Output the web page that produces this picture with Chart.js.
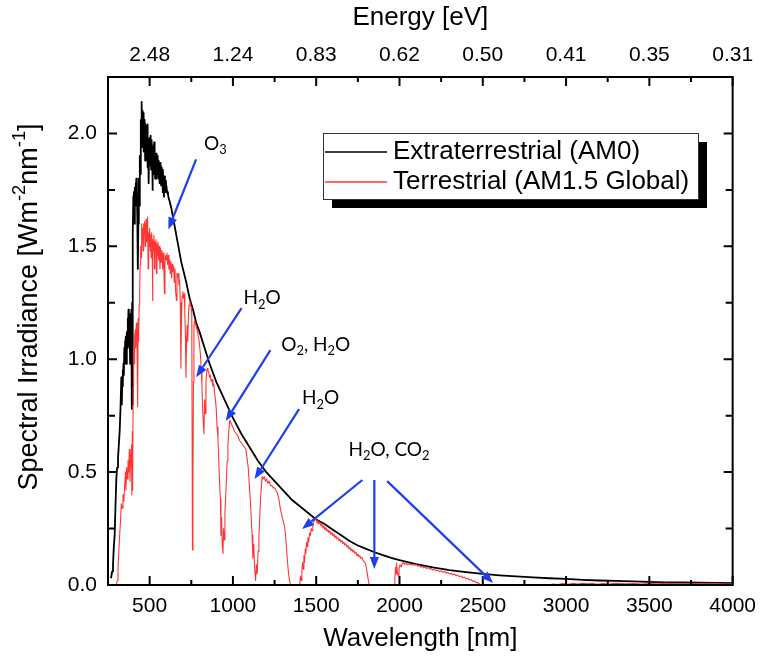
<!DOCTYPE html>
<html><head><meta charset="utf-8">
<script src="https://cdn.jsdelivr.net/npm/chart.js@4.4.0/dist/chart.umd.min.js"></script>
<style>html,body{margin:0;padding:0;background:#fff;}canvas{display:block;}</style>
</head><body>
<canvas id="c" width="765" height="662" style="width:765px;height:662px"></canvas>
<script>
// ---- data: [wavelength nm, irradiance W m^-2 nm^-1] ----
const am0Points = [
[268,0.03],[275,0.06],[280,0.09],[285,0.17],[290,0.22],[295,0.35],[300,0.47],[305,0.52],[310,0.56],[315,0.62],
[320,0.68],[325,0.78],[330,0.92],[333,0.80],[335,0.88],[338,0.95],[340,0.90],[343,0.98],[345,0.93],[348,1.05],
[350,0.98],[353,1.08],[355,1.02],[358,1.10],[360,0.98],[363,1.12],[365,1.05],[368,1.18],[370,1.10],[373,1.22],
[375,1.06],[378,1.20],[380,1.12],[383,0.98],[386,1.14],[388,1.05],[390,1.22],[393,0.78],[395,1.25],[397,0.80],
[400,1.55],[402,1.72],[404,1.62],[406,1.74],[408,1.66],[410,1.60],[412,1.76],[414,1.70],[416,1.78],[418,1.68],
[420,1.80],[422,1.72],[424,1.77],[426,1.62],[428,1.55],[430,1.40],[432,1.60],[434,1.72],[436,1.80],[438,1.68],
[440,1.84],[442,1.90],[444,1.82],[446,1.98],[448,2.06],[450,1.95],[451,2.14],[453,2.00],[455,2.10],[457,1.94],
[459,2.08],[461,2.00],[463,2.09],[465,1.92],[467,2.06],[469,1.97],[471,2.05],[473,1.88],[475,2.04],[477,1.95],
[479,2.03],[481,1.90],[483,2.02],[485,1.96],[487,2.04],[489,1.85],[491,1.97],[493,1.90],[495,1.78],[497,1.96],
[499,1.90],[501,1.98],[503,1.86],[505,1.99],[507,1.90],[509,1.84],[511,1.97],[513,1.88],[515,1.94],[517,1.75],
[519,1.93],[521,1.86],[523,1.95],[525,1.82],[527,1.96],[529,1.87],[531,1.92],[533,1.80],[535,1.90],[537,1.85],
[539,1.91],[541,1.80],[543,1.89],[545,1.84],[547,1.90],[549,1.82],[551,1.88],[553,1.80],[555,1.88],[557,1.83],
[559,1.86],[561,1.78],[563,1.87],[565,1.82],[567,1.85],[569,1.77],[571,1.85],[573,1.80],[576,1.83],[578,1.74],
[580,1.84],[583,1.78],[586,1.72],[589,1.81],[592,1.77],[595,1.79],[598,1.74],[600,1.77],[605,1.74],
[610,1.73],[615,1.71],[620,1.70],[630,1.67],[640,1.63],[650,1.59],[660,1.55],[670,1.51],[680,1.47],[690,1.43],
[700,1.40],[720,1.34],[740,1.27],[760,1.22],[780,1.16],[800,1.12],[830,1.05],[860,0.98],[900,0.90],[950,0.82],
[1000,0.74],[1050,0.67],[1100,0.61],[1150,0.55],[1200,0.50],[1250,0.46],[1300,0.42],[1350,0.38],[1400,0.35],
[1450,0.32],[1500,0.29],[1550,0.27],[1600,0.245],[1650,0.22],[1700,0.195],[1750,0.175],[1800,0.16],[1850,0.145],
[1900,0.132],[1950,0.12],[2000,0.11],[2100,0.092],[2200,0.078],[2300,0.066],[2400,0.057],[2500,0.049],[2600,0.043],
[2700,0.038],[2800,0.034],[2900,0.030],[3000,0.027],[3100,0.023],[3200,0.020],[3300,0.018],[3400,0.016],
[3500,0.014],[3600,0.012],[3700,0.011],[3800,0.010],[3900,0.009],[4000,0.008]
];
const am15Points = [
[300,0.0],[305,0.02],[310,0.07],[315,0.15],[320,0.22],[325,0.28],[330,0.36],[335,0.34],[340,0.40],[345,0.37],
[350,0.44],[355,0.50],[358,0.42],[362,0.52],[366,0.47],[370,0.55],[374,0.50],[378,0.60],[382,0.46],[385,0.58],
[388,0.52],[391,0.62],[393,0.40],[396,0.68],[398,0.42],[401,0.88],[404,1.05],[407,0.98],[410,1.10],[414,1.13],
[417,1.05],[420,1.16],[424,1.10],[428,0.79],[431,1.18],[434,1.08],[437,1.24],[440,1.30],[443,1.42],[446,1.50],
[449,1.45],[452,1.60],[455,1.52],[458,1.58],[461,1.48],[464,1.60],[467,1.55],[470,1.61],[473,1.50],[476,1.58],
[479,1.62],[482,1.52],[485,1.60],[488,1.63],[491,1.40],[494,1.56],[497,1.50],[500,1.58],[503,1.48],[506,1.55],
[509,1.45],[512,1.56],[515,1.50],[517,1.26],[520,1.53],[523,1.48],[526,1.55],[529,1.40],[532,1.52],[535,1.47],
[538,1.53],[541,1.38],[544,1.51],[547,1.46],[550,1.52],[554,1.44],[558,1.50],[562,1.40],[566,1.49],[570,1.43],
[574,1.48],[578,1.40],[582,1.47],[586,1.38],[589,1.29],[592,1.42],[596,1.46],[600,1.44],[604,1.47],[608,1.42],
[612,1.46],[616,1.40],[620,1.44],[624,1.38],[628,1.43],[632,1.36],[636,1.42],[640,1.39],[644,1.41],[648,1.34],
[652,1.40],[656,1.30],[661,1.26],[664,1.38],[668,1.36],[672,1.38],[676,1.33],[680,1.35],[684,1.25],[688,0.96],
[691,1.18],[695,1.28],[699,1.30],[703,1.27],[707,1.29],[711,1.22],[715,1.10],[718,0.92],[721,1.05],[725,1.15],
[729,1.08],[733,1.20],[737,1.24],[741,1.26],[745,1.24],[749,1.23],[753,1.20],[757,0.155],[760,0.45],[763,0.90],
[766,1.15],[770,1.17],[775,1.16],[780,1.14],[785,1.13],[790,1.11],[795,1.09],[800,1.06],[805,1.02],[810,0.95],
[814,0.88],[818,0.78],[822,0.72],[826,0.67],[830,0.82],[834,0.76],[838,0.90],[842,0.94],[846,0.96],[850,0.95],
[855,0.94],[860,0.92],[865,0.93],[870,0.90],[875,0.91],[880,0.88],[885,0.89],[890,0.85],[895,0.82],[900,0.78],
[905,0.70],[910,0.65],[915,0.55],[920,0.45],[925,0.38],[928,0.22],[932,0.30],[936,0.18],[940,0.14],[944,0.25],
[948,0.20],[952,0.32],[956,0.38],[960,0.45],[965,0.55],[970,0.62],[975,0.68],[981,0.73],[987,0.72],[993,0.71],
[1000,0.70],[1010,0.68],[1020,0.67],[1030,0.66],[1040,0.64],[1050,0.63],[1060,0.62],[1070,0.61],[1078,0.60],
[1085,0.56],[1092,0.52],[1098,0.45],[1104,0.38],[1110,0.30],[1115,0.22],[1120,0.12],[1125,0.18],[1130,0.08],
[1136,0.02],[1141,0.09],[1146,0.05],[1151,0.15],[1156,0.22],[1161,0.30],[1166,0.38],[1171,0.44],[1176,0.48],
[1182,0.47],[1188,0.48],[1195,0.46],[1202,0.47],[1210,0.45],[1218,0.46],[1226,0.44],[1234,0.44],[1242,0.43],
[1250,0.43],[1258,0.42],[1266,0.41],[1272,0.39],[1278,0.37],[1284,0.34],[1290,0.32],[1296,0.30],[1303,0.28],
[1310,0.26],[1316,0.22],[1322,0.16],[1328,0.10],[1334,0.05],[1340,0.02],[1346,0.0],[1398,0.0],[1402,0.01],
[1406,0.04],[1410,0.02],[1414,0.06],[1418,0.10],[1422,0.07],[1426,0.13],[1430,0.10],[1434,0.16],[1438,0.14],
[1442,0.19],[1446,0.17],[1450,0.21],[1455,0.19],[1460,0.23],[1465,0.22],[1470,0.25],[1475,0.24],[1480,0.27],
[1486,0.28],[1492,0.29],[1500,0.29],[1505,0.275],[1510,0.285],[1516,0.27],[1522,0.278],[1528,0.262],[1534,0.27],
[1540,0.252],[1546,0.262],[1552,0.245],[1558,0.255],[1564,0.238],[1570,0.246],[1576,0.232],[1582,0.24],
[1588,0.224],[1594,0.232],[1600,0.218],[1606,0.226],[1612,0.21],[1618,0.218],[1624,0.204],[1630,0.21],
[1636,0.196],[1642,0.204],[1648,0.19],[1654,0.197],[1660,0.183],[1666,0.19],[1672,0.176],[1678,0.183],
[1684,0.168],[1690,0.175],[1696,0.16],[1702,0.167],[1708,0.152],[1714,0.16],[1720,0.146],[1726,0.153],
[1732,0.14],[1738,0.146],[1744,0.13],[1750,0.137],[1756,0.125],[1762,0.13],[1768,0.118],[1774,0.122],
[1780,0.11],[1786,0.105],[1792,0.10],[1797,0.09],[1802,0.072],[1806,0.055],[1812,0.025],[1819,0.0],
[1967,0.0],[1972,0.03],[1977,0.08],[1980,0.05],[1983,0.097],[1987,0.06],[1992,0.04],
[1997,0.07],[2003,0.09],[2010,0.08],[2016,0.095],[2023,0.10],[2030,0.092],[2038,0.097],[2046,0.09],[2055,0.094],
[2064,0.09],[2074,0.092],[2084,0.089],[2094,0.09],[2104,0.088],[2112,0.083],[2120,0.086],[2128,0.079],
[2136,0.083],[2144,0.076],[2152,0.08],[2160,0.073],[2170,0.077],[2180,0.07],[2190,0.073],[2200,0.066],
[2210,0.07],[2220,0.063],[2230,0.066],[2240,0.059],[2250,0.063],[2260,0.056],[2270,0.06],[2280,0.052],
[2290,0.056],[2300,0.049],[2310,0.052],[2320,0.045],[2330,0.048],[2340,0.041],[2350,0.044],[2360,0.037],
[2370,0.04],[2380,0.032],[2390,0.035],[2400,0.027],[2410,0.03],[2420,0.022],[2430,0.024],[2440,0.016],
[2450,0.018],[2460,0.01],[2470,0.011],[2480,0.004],
[2491,0.0],[2900,0.0],[2920,0.004],[2950,0.002],[2980,0.006],[3010,0.003],[3040,0.007],[3070,0.004],[3100,0.008],
[3130,0.005],[3160,0.007],[3190,0.003],[3220,0.006],[3260,0.004],[3300,0.007],[3350,0.005],[3400,0.006],
[3450,0.004],[3500,0.006],[3550,0.005],[3600,0.007],[3650,0.005],[3700,0.006],[3750,0.004],[3800,0.006],
[3850,0.005],[3900,0.006],[3950,0.004],[4000,0.005]
];
const seriesLabels = ['Extraterrestrial (AM0)', 'Terrestrial (AM1.5 Global)'];
const wavelengthTicks = [500,1000,1500,2000,2500,3000,3500,4000];
const energyTickLabels = ['2.48','1.24','0.83','0.62','0.50','0.41','0.35','0.31'];
const irradianceTicks = [0,0.5,1.0,1.5,2.0];

// annotation texts (parts: plain / sub) and arrow anchors in data coordinates
const annotationTexts = [
  {parts:[['O'],['3','sub']], at:[826,1.956]},
  {parts:[['H'],['2','sub'],['O']], at:[1064,1.27]},
  {parts:[['O'],['2','sub'],[', H'],['2','sub'],['O']], at:[1290,1.062]},
  {parts:[['H'],['2','sub'],['O']], at:[1415,0.827]},
  {parts:[['H'],['2','sub'],['O, CO'],['2','sub']], at:[1694,0.597]}
];
const annotationArrows = [
  [[779,1.885],[612,1.575]],
  [[1052,1.226],[779,0.920]],
  [[1225,1.040],[957,0.726]],
  [[1397,0.779],[1130,0.469]],
  [[1777,0.465],[1415,0.248]],
  [[1849,0.465],[1849,0.071]],
  [[1926,0.46],[2562,0.009]]
];

const FONT = "'Liberation Sans', Arial, sans-serif";
const ANN_FONT = "Lato, 'Open Sans', sans-serif";
const BLUE = '#1d3fec';

function richText(ctx, parts, x, y, size, family, align) {
  const fs = p => (p[1] ? size * 0.68 : size);
  let w = 0;
  parts.forEach(p => { ctx.font = fs(p) + 'px ' + family; w += ctx.measureText(p[0]).width; });
  let cx = align === 'center' ? x - w / 2 : x;
  ctx.textAlign = 'left';
  ctx.textBaseline = 'middle';
  parts.forEach(p => {
    ctx.font = fs(p) + 'px ' + family;
    const dy = p[1] === 'sub' ? size * 0.32 : p[1] === 'sup' ? -size * 0.36 : 0;
    ctx.fillText(p[0], cx, y + dy);
    cx += ctx.measureText(p[0]).width;
  });
}

const decorPlugin = {
  id: 'decor',
  afterDatasetsDraw(chart) {
    const {ctx, chartArea: a, scales} = chart;
    const xs = scales.x, ys = scales.y;
    ctx.save();
    // frame
    ctx.strokeStyle = '#000';
    ctx.lineWidth = 2;
    ctx.strokeRect(a.left, a.top, a.right - a.left, a.bottom - a.top);
    // inward ticks
    const MAJ = 9, MIN = 5;
    ctx.beginPath();
    wavelengthTicks.forEach((v, i) => {
      const px = xs.getPixelForValue(v);
      ctx.moveTo(px, a.bottom); ctx.lineTo(px, a.bottom - MAJ);
      ctx.moveTo(px, a.top); ctx.lineTo(px, a.top + MAJ);
      const m = v - (wavelengthTicks[1] - wavelengthTicks[0]) / 2;
      if (m > xs.min) {
        const pm = xs.getPixelForValue(m);
        ctx.moveTo(pm, a.bottom); ctx.lineTo(pm, a.bottom - MIN);
        ctx.moveTo(pm, a.top); ctx.lineTo(pm, a.top + MIN);
      }
    });
    irradianceTicks.forEach(v => {
      const py = ys.getPixelForValue(v);
      ctx.moveTo(a.left, py); ctx.lineTo(a.left + MAJ, py);
      ctx.moveTo(a.right, py); ctx.lineTo(a.right - MAJ, py);
      const m = v + (irradianceTicks[1] - irradianceTicks[0]) / 2;
      if (m < ys.max) {
        const pm = ys.getPixelForValue(m);
        ctx.moveTo(a.left, pm); ctx.lineTo(a.left + MIN + 2, pm);
        ctx.moveTo(a.right, pm); ctx.lineTo(a.right - MIN - 2, pm);
      }
    });
    ctx.stroke();

    // annotations
    ctx.fillStyle = '#000';
    annotationTexts.forEach(t => {
      richText(ctx, t.parts, xs.getPixelForValue(t.at[0]), ys.getPixelForValue(t.at[1]), 19, ANN_FONT, 'left');
    });
    ctx.strokeStyle = BLUE; ctx.fillStyle = BLUE; ctx.lineWidth = 2.2;
    annotationArrows.forEach(([s, e]) => {
      const x1 = xs.getPixelForValue(s[0]), y1 = ys.getPixelForValue(s[1]);
      const x2 = xs.getPixelForValue(e[0]), y2 = ys.getPixelForValue(e[1]);
      const ang = Math.atan2(y2 - y1, x2 - x1);
      const L = 12, W = 4.5;
      const bx = x2 - L * Math.cos(ang), by = y2 - L * Math.sin(ang);
      ctx.beginPath(); ctx.moveTo(x1, y1); ctx.lineTo(bx, by); ctx.stroke();
      ctx.beginPath();
      ctx.moveTo(x2, y2);
      ctx.lineTo(bx + W * Math.sin(ang), by - W * Math.cos(ang));
      ctx.lineTo(bx - W * Math.sin(ang), by + W * Math.cos(ang));
      ctx.closePath(); ctx.fill();
    });

    // legend with shadow
    const lg = {x: 323, y: 133, w: 375, h: 66, sh: 9};
    ctx.fillStyle = '#000';
    ctx.fillRect(lg.x + lg.sh, lg.y + lg.sh, lg.w, lg.h);
    ctx.fillStyle = '#fff';
    ctx.fillRect(lg.x, lg.y, lg.w, lg.h);
    ctx.strokeStyle = '#333'; ctx.lineWidth = 1;
    ctx.strokeRect(lg.x + 0.5, lg.y + 0.5, lg.w, lg.h);
    chart.data.datasets.forEach((ds, i) => {
      const yy = lg.y + 19 + i * 30;
      ctx.strokeStyle = ds.borderColor; ctx.lineWidth = 1.5;
      ctx.beginPath(); ctx.moveTo(lg.x + 2, yy); ctx.lineTo(lg.x + 64, yy); ctx.stroke();
      ctx.fillStyle = '#000';
      ctx.font = '26px ' + FONT; ctx.textAlign = 'left'; ctx.textBaseline = 'middle';
      ctx.fillText(ds.label, lg.x + 70, yy);
    });

    // axis titles
    ctx.fillStyle = '#000';
    ctx.font = '26px ' + FONT; ctx.textAlign = 'center'; ctx.textBaseline = 'middle';
    const cx = (a.left + a.right) / 2;
    ctx.fillText('Energy [eV]', cx, 18);
    ctx.fillText('Wavelength [nm]', cx, 639);
    ctx.save();
    ctx.translate(30, 307);
    ctx.rotate(-Math.PI / 2);
    richText(ctx, [['Spectral Irradiance [Wm'], ['-2', 'sup'], ['nm'], ['-1', 'sup'], [']']], 0, 0, 27, FONT, 'center');
    ctx.restore();
    ctx.restore();
  }
};

const tickFont = {family: FONT, size: 21};
new Chart(document.getElementById('c'), {
  type: 'line',
  data: {
    datasets: [
      {label: seriesLabels[0], data: am0Points.map(p => ({x: p[0], y: p[1]})), borderColor: '#000000',
       borderWidth: 1.8, pointRadius: 0, tension: 0, borderJoinStyle: 'round', order: 2},
      {label: seriesLabels[1], data: am15Points.map(p => ({x: p[0], y: p[1]})), borderColor: '#ff3636',
       borderWidth: 1.1, pointRadius: 0, tension: 0, borderJoinStyle: 'round', order: 1}
    ]
  },
  options: {
    responsive: false, animation: false, events: [],
    layout: {padding: {left: 0, right: 26, top: 0, bottom: 0}},
    plugins: {legend: {display: false}, tooltip: {enabled: false}},
    scales: {
      x: {type: 'linear', position: 'bottom', min: 250, max: 4000,
          afterBuildTicks: s => { s.ticks = wavelengthTicks.map(v => ({value: v})); },
          afterFit: s => { s.height = 77; },
          ticks: {font: tickFont, color: '#000', padding: 9, maxRotation: 0, autoSkip: false,
                  callback: v => String(v)},
          grid: {display: false, drawTicks: false}, border: {display: false}},
      xTop: {type: 'linear', position: 'top', min: 250, max: 4000,
          afterBuildTicks: s => { s.ticks = wavelengthTicks.map(v => ({value: v})); },
          afterFit: s => { s.height = 77; },
          ticks: {font: tickFont, color: '#000', padding: 9, maxRotation: 0, autoSkip: false,
                  callback: (v, i) => energyTickLabels[i]},
          grid: {display: false, drawTicks: false}, border: {display: false}},
      y: {type: 'linear', position: 'left', min: 0, max: 2.25,
          afterBuildTicks: s => { s.ticks = irradianceTicks.map(v => ({value: v})); },
          afterFit: s => { s.width = 108; },
          ticks: {font: tickFont, color: '#000', padding: 11, callback: v => v.toFixed(1)},
          grid: {display: false, drawTicks: false}, border: {display: false}}
    }
  },
  plugins: [decorPlugin]
});
</script>
</body></html>
